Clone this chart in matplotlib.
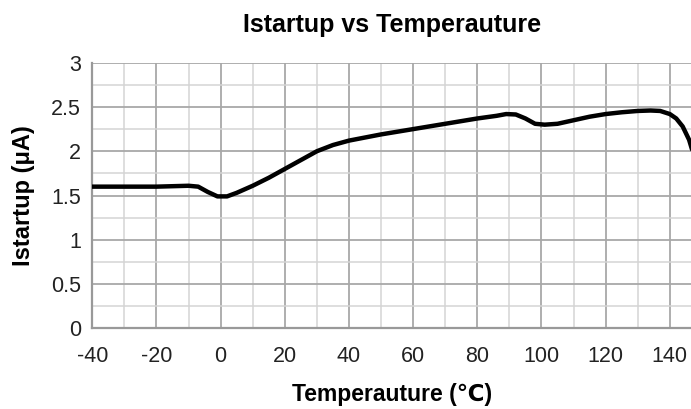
import matplotlib
matplotlib.use("Agg")
import matplotlib.pyplot as plt
from matplotlib.ticker import MultipleLocator

plt.rcParams['font.family'] = ['Liberation Sans', 'DejaVu Sans']
plt.rcParams['axes.unicode_minus'] = False

temperature = [-40, -30, -20, -10, -7, -4, -1, 2, 5, 10, 15, 20, 25, 30, 35, 40,
               50, 60, 70, 80, 86, 89, 92, 95, 98, 101, 105, 110, 115, 120, 125, 130,
               134, 137, 140, 142, 144, 146, 147]
istartup = [1.60, 1.60, 1.60, 1.61, 1.60, 1.54, 1.49, 1.49, 1.53, 1.61, 1.70, 1.80,
            1.90, 2.00, 2.07, 2.12, 2.19, 2.25, 2.31, 2.37, 2.40, 2.42, 2.415, 2.37, 2.31,
            2.30, 2.31, 2.35, 2.39, 2.42, 2.44, 2.455, 2.46, 2.455, 2.42, 2.37, 2.28, 2.13, 2.01]
xticks = [-40, -20, 0, 20, 40, 60, 80, 100, 120, 140]
yticks = [0, 0.5, 1, 1.5, 2, 2.5, 3]

fig = plt.figure(figsize=(6.91, 4.09), dpi=100)
ax = fig.add_axes([92.3/691, 1-328.3/409, 1-92.3/691, (328.3-62.7)/409])

ax.plot(temperature, istartup, color='black', lw=3.2, solid_joinstyle='round',
        solid_capstyle='round', zorder=5, clip_on=True)

ax.set_xlim(-40, 146.6)
ax.set_ylim(0, 3)
ax.set_xticks(xticks)
ax.set_yticks(yticks)
ax.set_yticklabels(['0', '0.5', '1', '1.5', '2', '2.5', '3'])
ax.xaxis.set_minor_locator(MultipleLocator(10))
ax.yaxis.set_minor_locator(MultipleLocator(0.25))
ax.grid(which='major', color='#a8a8a8', lw=1.3)
ax.grid(which='minor', color='#d4d4d4', lw=1.1)
ax.set_axisbelow(True)
ax.tick_params(which='both', length=0, labelsize=15.5, colors='#222222')
ax.tick_params(axis='x', pad=13)
ax.tick_params(axis='y', pad=8)
for s in ['top', 'right']:
    ax.spines[s].set_visible(False)
for s in ['left', 'bottom']:
    ax.spines[s].set_color('#999999')
    ax.spines[s].set_linewidth(1.6)

ax.set_title('Istartup vs Temperauture', fontsize=18, fontweight='bold', pad=22)
ax.set_xlabel('Temperauture (\u2103)', fontsize=16.5, fontweight='bold', labelpad=11)
ax.set_ylabel('Istartup (\u03bcA)', fontsize=17, fontweight='bold', labelpad=12)

fig.savefig('out.png', dpi=100)
